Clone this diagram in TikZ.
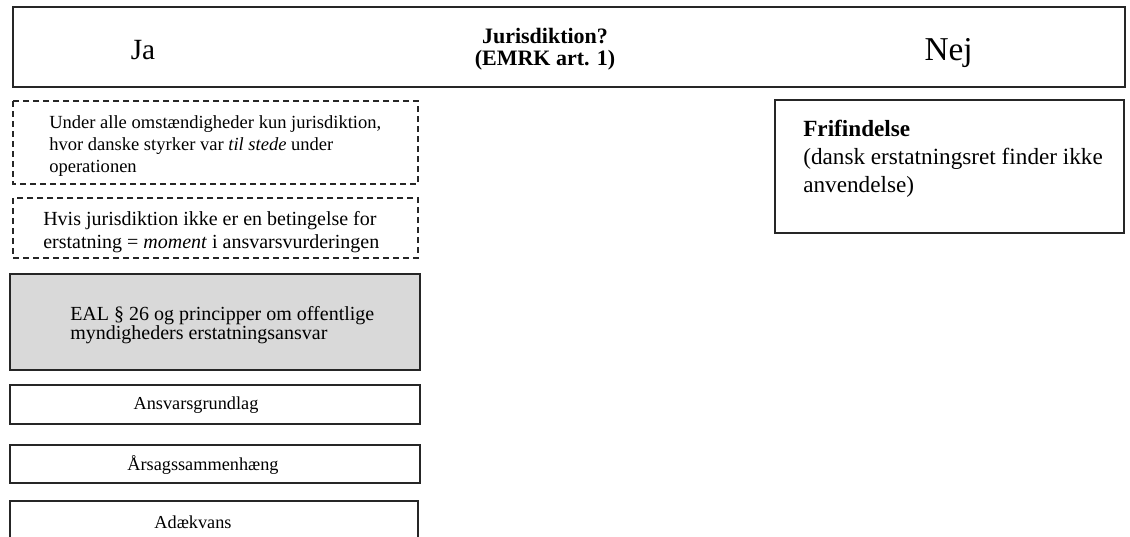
\documentclass[tikz,border=0pt]{standalone}
\usepackage{fontspec}
\setmainfont{Liberation Serif}
\usetikzlibrary{positioning}
\definecolor{boxgray}{HTML}{D9D9D9}
\tikzset{
  frame/.style={draw=black!85, line width=1.3pt},
  dashframe/.style={draw=black!85, line width=1.3pt, dash pattern=on 4.5pt off 3pt},
  txt/.style={inner sep=0pt, align=left},
}

\begin{document}
\begin{tikzpicture}[x=0.75pt,y=-0.75pt]
  \clip (0,0) rectangle (1130,536);
  \fill[white] (0,0) rectangle (1130,536);

  % header row (base of multi-line nodes = last line)
  \draw[frame] (13,7) rectangle (1125,87);
  \node[txt, anchor=base, font=\fontsize{22}{26}\selectfont] (ja) at (143,59) {Ja};
  \node[txt, align=center, anchor=base, font=\bfseries\fontsize{16.5}{16.5}\selectfont] (jur) at (545,65) {Jurisdiktion?\\(EMRK art. 1)};
  \node[txt, anchor=base east, font=\fontsize{25}{29}\selectfont] (nej) at (973,60) {Nej};

  % ja-side: conditions
  \draw[dashframe] (13,101) rectangle (418,184);
  \node[txt, anchor=base west, font=\fontsize{13.9}{16.5}\selectfont] (tilstede) at (49,172)
    {Under alle omstændigheder kun jurisdiktion,\\hvor danske styrker var \textit{til stede} under\\operationen};

  \draw[dashframe] (13,198) rectangle (418,258);
  \node[txt, anchor=base west, font=\fontsize{15}{17.25}\selectfont] (moment) at (43,248)
    {Hvis jurisdiktion ikke er en betingelse for\\erstatning = \textit{moment} i ansvarsvurderingen};

  % ja-side: legal basis
  \draw[frame, fill=boxgray] (10,274) rectangle (420,370);
  \node[txt, anchor=base west, font={\fontsize{15}{13.9}\selectfont\lineskiplimit=-20pt\relax}] (eal) at (70,339)
    {EAL § 26 og principper om offentlige\\myndigheders erstatningsansvar};

  \draw[frame] (10,385) rectangle (420,424);
  \node[txt, font=\fontsize{13.7}{16}\selectfont] (grundlag) at (196,405) {Ansvarsgrundlag};

  \draw[frame] (10,445) rectangle (420,483);
  \node[txt, font=\fontsize{13.7}{16}\selectfont] (aarsag) at (203,465) {Årsagssammenhæng};

  \draw[frame] (10,501) rectangle (418,545);
  \node[txt, font=\fontsize{13.7}{16}\selectfont] (adaek) at (193,522) {Adækvans};

  % nej-side
  \draw[frame] (775,100) rectangle (1124,233);
  \node[txt, anchor=base west, font=\fontsize{17.4}{20.7}\selectfont] (frifind) at (803,192)
    {\textbf{Frifindelse}\\(dansk erstatningsret finder ikke\\anvendelse)};

\end{tikzpicture}
\end{document}
